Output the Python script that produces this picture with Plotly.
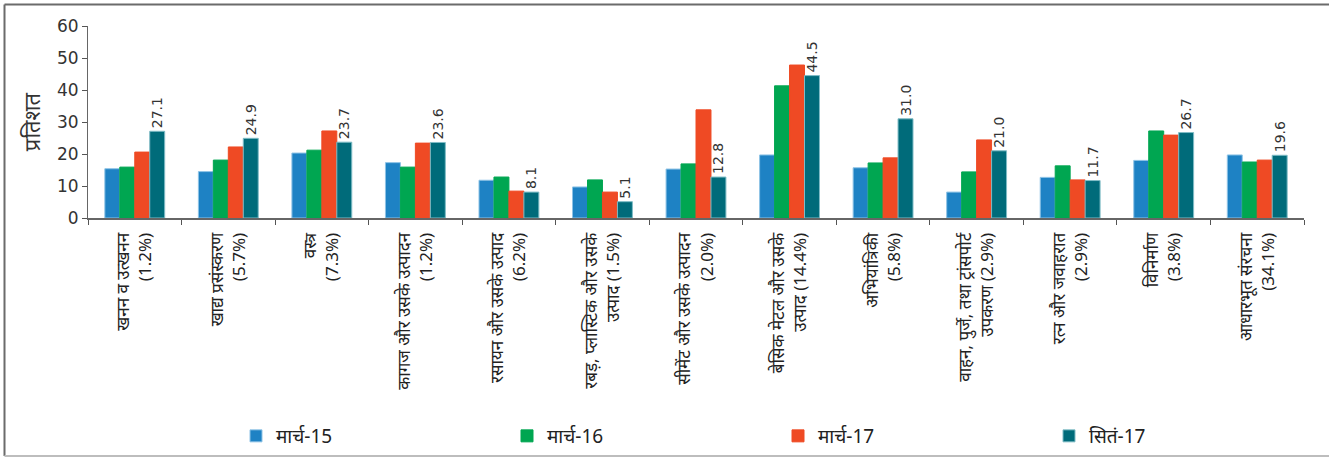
import plotly.graph_objects as go

# Sector categories (weight in index shown in brackets)
categories = [
    "खनन व उत्खनन<br>(1.2%)",
    "खाद्य प्रसंस्करण<br>(5.7%)",
    "वस्त्र<br>(7.3%)",
    "कागज और उसके उत्पादन<br>(1.2%)",
    "रसायन और उसके उत्पाद<br>(6.2%)",
    "रबड़, प्लास्टिक और उसके<br>उत्पाद (1.5%)",
    "सीमेंट और उसके उत्पादन<br>(2.0%)",
    "बेसिक मेटल और उसके<br>उत्पाद (14.4%)",
    "अभियांत्रिकी<br>(5.8%)",
    "वाहन, पुर्जे, तथा ट्रांसपोर्ट<br>उपकरण (2.9%)",
    "रत्न और जवाहरात<br>(2.9%)",
    "विनिर्माण<br>(3.8%)",
    "आधारभूत संरचना<br>(34.1%)",
]

series_names = ["मार्च-15", "मार्च-16", "मार्च-17", "सितं-17"]

mar15 = [15.4, 14.5, 20.3, 17.3, 11.8, 9.7, 15.3, 19.7, 15.7, 8.1, 12.7, 18.0, 19.7]
mar16 = [15.9, 18.1, 21.2, 15.9, 12.8, 11.9, 16.9, 41.3, 17.2, 14.4, 16.3, 27.2, 17.5]
mar17 = [20.6, 22.2, 27.2, 23.4, 8.4, 8.1, 33.8, 47.8, 18.8, 24.4, 11.9, 25.9, 18.1]
sep17 = [27.1, 24.9, 23.7, 23.6, 8.1, 5.1, 12.8, 44.5, 31.0, 21.0, 11.7, 26.7, 19.6]

colors = ["#1e82c4", "#00a651", "#ef4a24", "#006b7a"]
edge_colors = ["#8ec3e6", "#00a651", "#ef4a24", "#7fbcc6"]

fig = go.Figure()
for name, vals, col, edge in zip(series_names, [mar15, mar16, mar17, sep17], colors, edge_colors):
    is_last = name == series_names[-1]
    fig.add_trace(go.Bar(
        x=categories,
        y=vals,
        name=name,
        marker=dict(color=col, line=dict(width=1, color=edge)),
        text=[f"{v:.1f}" for v in vals] if is_last else None,
        textposition="outside" if is_last else None,
        textangle=-90,
        constraintext="none",
        textfont=dict(family="DejaVu Sans", size=14, color="#333333"),
        cliponaxis=False,
    ))

# Outer frame: dark top/left edges, light bottom edge
L, R, T, B = 88, 25, 26, 239
W, H = 1329, 457
pw, ph = W - L - R, H - T - B


def px(x):
    return (x - L) / pw


def py(y):
    return (H - B - y) / ph


frame = [
    dict(x0=px(4.5), x1=px(W), y0=py(4.5), y1=py(4.5), color="#6b6b6b"),
    dict(x0=px(4.5), x1=px(4.5), y0=py(4.5), y1=py(456), color="#6b6b6b"),
    dict(x0=px(4.5), x1=px(W), y0=py(456), y1=py(456), color="#bdbdbd"),
]
for s in frame:
    fig.add_shape(type="line", xref="paper", yref="paper",
                  x0=s["x0"], x1=s["x1"], y0=s["y0"], y1=s["y1"],
                  line=dict(color=s["color"], width=2))

fig.update_layout(
    width=W, height=H,
    margin=dict(l=L, r=R, t=T, b=B, autoexpand=False),
    paper_bgcolor="white",
    plot_bgcolor="white",
    barmode="group",
    bargap=0.36,
    bargroupgap=0,
    font=dict(family="Noto Sans, DejaVu Sans", color="#333333"),
    showlegend=True,
    legend=dict(
        orientation="h",
        x=px(236), xanchor="left",
        y=py(436), yanchor="middle",
        entrywidth=226, entrywidthmode="pixels",
        font=dict(family="Liberation Sans Narrow, Noto Sans", size=19, color="#222222"),
        itemwidth=30,
        bgcolor="rgba(0,0,0,0)",
    ),
    xaxis=dict(
        type="category",
        tickangle=-90,
        tickson="boundaries",
        ticks="outside",
        ticklen=5,
        tickcolor="#555555",
        ticklabelstandoff=6,
        showline=True,
        linecolor="#666666",
        linewidth=2,
        tickfont=dict(size=17, color="#222222"),
        showgrid=False,
    ),
    yaxis=dict(
        range=[0, 60],
        dtick=10,
        ticks="outside",
        ticklen=5,
        tickcolor="#555555",
        showline=True,
        linecolor="#666666",
        linewidth=1,
        showgrid=False,
        zeroline=False,
        tickfont=dict(family="DejaVu Sans", size=17, color="#333333"),
        title=dict(text="प्रतिशत", font=dict(size=22, color="#333333"), standoff=10),
    ),
)

fig.write_html("out.html")
